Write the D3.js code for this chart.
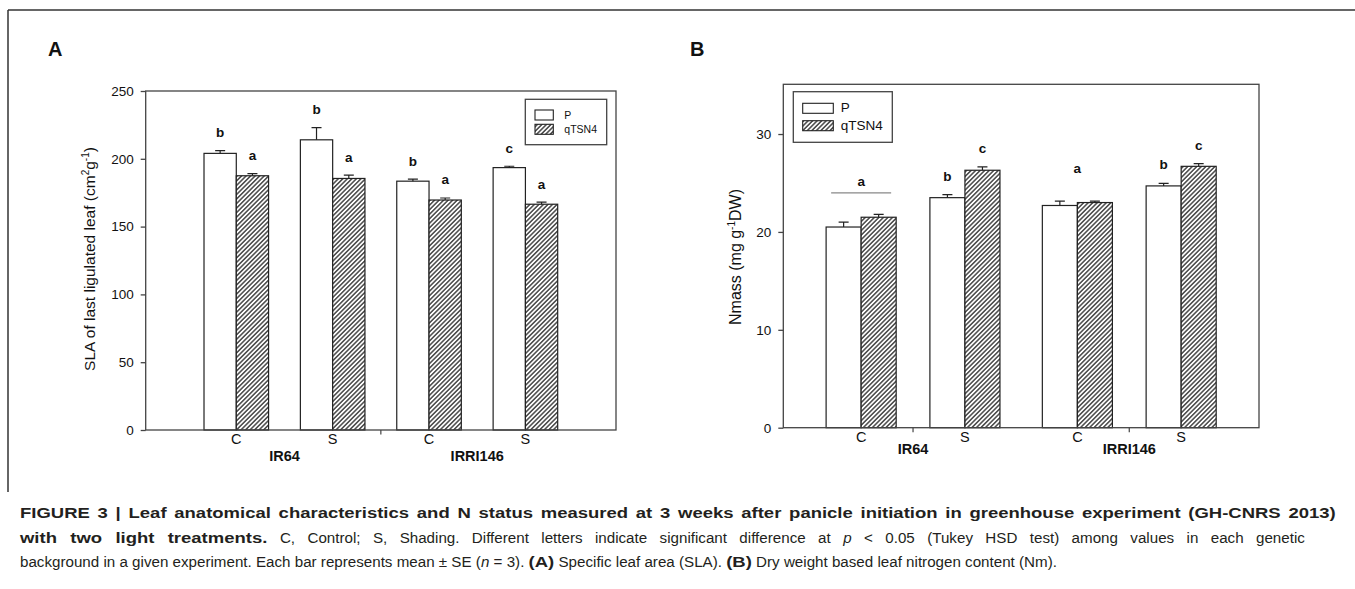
<!DOCTYPE html>
<html>
<head>
<meta charset="utf-8">
<script src="https://cdn.jsdelivr.net/npm/d3@7"></script>
<style>
body { margin: 0; background: #fff; }
svg { font-family: "Liberation Sans", Arial, sans-serif; }
</style>
</head>
<body>
<svg width="1355" height="589"></svg>
<script>
var genotypes = ['IR64', 'IRRI146'];
var treatments = ['C', 'S'];
var lines = ['P', 'qTSN4'];

// order of values: IR64-C, IR64-S, IRRI146-C, IRRI146-S
var slaP = [204, 214, 183.5, 193.5];
var slaQ = [187.5, 185.5, 169.6, 166.5];
var slaPse = [2, 9, 1.5, 1];
var slaQse = [1.5, 2.5, 1.5, 1.5];
var slaPlet = ['b', 'b', 'b', 'c'];
var slaQlet = ['a', 'a', 'a', 'a'];
var slaTicks = [0, 50, 100, 150, 200, 250];

var nmP = [20.5, 23.5, 22.7, 24.7];
var nmQ = [21.5, 26.3, 23.0, 26.7];
var nmPse = [0.5, 0.3, 0.45, 0.25];
var nmQse = [0.3, 0.35, 0.15, 0.27];
var nmPlet = ['', 'b', '', 'b'];
var nmQlet = ['', 'c', '', 'c'];
var nmGroupLet = ['a', '', 'a', ''];
var nmGroupLine = [true, false, false, false];
var nmTicks = [0, 10, 20, 30];

var caption = [
    [['FIGURE 3 | Leaf anatomical characteristics and N status measured at 3 weeks after panicle initiation in greenhouse experiment (GH-CNRS 2013)', 'b']],
    [['with two light treatments.', 'b'], [' C, Control; S, Shading. Different letters indicate significant difference at ', 'n'], ['p', 'i'], [' < 0.05 (Tukey HSD test) among values in each genetic', 'n']],
    [['background in a given experiment. Each bar represents mean \u00b1 SE (', 'n'], ['n', 'i'], [' = 3). ', 'n'], ['(A)', 'b'], [' Specific leaf area (SLA). ', 'n'], ['(B)', 'b'], [' Dry weight based leaf nitrogen content (Nm).', 'n']]
];

var svg = d3.select('svg');

var defs = svg.append('defs');
var pat = defs.append('pattern').attr('id', 'hatch').attr('patternUnits', 'userSpaceOnUse')
    .attr('width', 3.2).attr('height', 3.2).attr('patternTransform', 'rotate(45)');
pat.append('rect').attr('width', 3.2).attr('height', 3.2).attr('fill', '#fff');
pat.append('line').attr('x1', 0.8).attr('y1', 0).attr('x2', 0.8).attr('y2', 3.2)
    .attr('stroke', '#222').attr('stroke-width', 1.25);

// figure frame (top and left)
svg.append('line').attr('x1', 8).attr('y1', 10).attr('x2', 1355).attr('y2', 10).attr('stroke', '#333').attr('stroke-width', 1.5);
svg.append('line').attr('x1', 8).attr('y1', 10).attr('x2', 8).attr('y2', 492).attr('stroke', '#333').attr('stroke-width', 1.5);

function drawPanel(p) {
    var g = svg.append('g');
    var y = d3.scaleLinear().domain([0, p.ymax]).range([p.bottom, p.top]);
    var outer = d3.scaleBand().domain(genotypes).range([p.left, p.right])
        .paddingInner(p.outerInner).paddingOuter(p.outerOuter);
    var inner = d3.scaleBand().domain(treatments).range([0, outer.bandwidth()])
        .paddingInner(p.innerPad).paddingOuter(p.innerPad / 2);
    var bar = d3.scaleBand().domain(lines).range([0, inner.bandwidth()]);

    var rows = [];
    genotypes.forEach(function (gt, gi) {
        treatments.forEach(function (tr, ti) {
            var k = gi * 2 + ti;
            var gx = outer(gt) + inner(tr);
            rows.push({k: k, gx: gx, line: 'P', v: p.pv[k], se: p.pse[k], let: p.plet[k]});
            rows.push({k: k, gx: gx, line: 'qTSN4', v: p.qv[k], se: p.qse[k], let: p.qlet[k]});
        });
    });

    g.selectAll('.bar').data(rows).enter().append('rect')
        .attr('x', function (d) { return d.gx + bar(d.line); })
        .attr('y', function (d) { return y(d.v); })
        .attr('width', bar.bandwidth())
        .attr('height', function (d) { return y(0) - y(d.v); })
        .attr('fill', function (d) { return d.line === 'P' ? '#fff' : 'url(#hatch)'; })
        .attr('stroke', '#222').attr('stroke-width', 1.2);

    // upper error bars
    g.selectAll('.err').data(rows).enter().append('path')
        .attr('d', function (d) {
            var cx = d.gx + bar(d.line) + bar.bandwidth() / 2;
            return 'M' + cx + ',' + y(d.v) + 'V' + y(d.v + d.se) + 'M' + (cx - 5) + ',' + y(d.v + d.se) + 'H' + (cx + 5);
        })
        .attr('stroke', '#222').attr('stroke-width', 1.2).attr('fill', 'none');

    g.selectAll('.let').data(rows.filter(function (d) { return d.let; })).enter().append('text')
        .attr('x', function (d) { return d.gx + bar(d.line) + bar.bandwidth() / 2; })
        .attr('y', function (d) { return y(d.v + d.se) - p.letOff; })
        .attr('text-anchor', 'middle').attr('font-weight', 'bold').attr('font-size', 13.5)
        .attr('fill', '#111')
        .text(function (d) { return d.let; });

    if (p.glet) {
        genotypes.forEach(function (gt, gi) {
            treatments.forEach(function (tr, ti) {
                var k = gi * 2 + ti;
                if (!p.glet[k]) return;
                var cx = outer(gt) + inner(tr) + inner.bandwidth() / 2;
                var top = y(Math.max(p.pv[k] + p.pse[k], p.qv[k] + p.qse[k]));
                g.append('text').attr('x', cx).attr('y', top - 28)
                    .attr('text-anchor', 'middle').attr('font-weight', 'bold').attr('font-size', 13.5)
                    .attr('fill', '#111').text(p.glet[k]);
                if (p.gline[k]) {
                    g.append('line').attr('x1', cx - 30).attr('x2', cx + 30)
                        .attr('y1', top - 21.5).attr('y2', top - 21.5)
                        .attr('stroke', '#888').attr('stroke-width', 1.2);
                }
            });
        });
    }

    // frame
    g.append('rect').attr('x', p.left).attr('y', p.top)
        .attr('width', p.right - p.left).attr('height', p.bottom - p.top)
        .attr('fill', 'none').attr('stroke', '#444').attr('stroke-width', 1.3);

    var ya = g.append('g').attr('transform', 'translate(' + p.left + ',0)')
        .call(d3.axisLeft(y).tickValues(p.ticks).tickSize(5).tickPadding(7).tickFormat(d3.format('d')));
    ya.select('.domain').remove();
    ya.selectAll('line').attr('stroke', '#444').attr('stroke-width', 1.3);
    ya.selectAll('text').attr('font-size', 13.5).attr('fill', '#111')
        .style('font-family', '"Liberation Sans", Arial, sans-serif');

    // treatment and genotype labels
    genotypes.forEach(function (gt) {
        treatments.forEach(function (tr) {
            g.append('text').attr('x', outer(gt) + inner(tr) + inner.bandwidth() / 2)
                .attr('y', p.bottom + p.trY).attr('text-anchor', 'middle')
                .attr('font-size', 14.5).attr('fill', '#111').text(tr);
        });
        g.append('text').attr('x', outer(gt) + outer.bandwidth() / 2)
            .attr('y', p.bottom + p.gtY).attr('text-anchor', 'middle')
            .attr('font-size', 14.5).attr('font-weight', 'bold').attr('fill', '#111').text(gt);
    });

    // group ticks on x axis
    var tx = p.tickAtEdge ? [outer(genotypes[1]) - outer.step() * outer.paddingInner() / 2]
        : genotypes.map(function (gt) { return outer(gt) + outer.bandwidth() / 2; });
    tx.forEach(function (x) {
        g.append('line').attr('x1', x).attr('x2', x).attr('y1', p.bottom).attr('y2', p.bottom + 4.5)
            .attr('stroke', '#444').attr('stroke-width', 1.2);
    });

    // y title
    var t = g.append('text').attr('transform', 'translate(' + p.titleX + ',' + p.titleY + ') rotate(-90)')
        .attr('text-anchor', 'middle').attr('font-size', p.titleFs).attr('fill', '#111');
    p.title.forEach(function (part) {
        var s = t.append('tspan').text(part[0]);
        if (part[1] === 'sup') s.attr('font-size', 10).attr('dy', -6);
        if (part[1] === 'down') s.attr('dy', 6);
    });

    // legend
    var L = p.legend;
    g.append('rect').attr('x', L.x).attr('y', L.y).attr('width', L.w).attr('height', L.h)
        .attr('fill', '#fff').attr('stroke', '#444').attr('stroke-width', 1.3);
    lines.forEach(function (ln, i) {
        var sy = L.y + L.sy + i * L.gap;
        g.append('rect').attr('x', L.x + L.sx).attr('y', sy).attr('width', L.sw).attr('height', 10)
            .attr('fill', i === 0 ? '#fff' : 'url(#hatch)').attr('stroke', '#222').attr('stroke-width', 1.1);
        g.append('text').attr('x', L.x + L.tx).attr('y', sy + 9).attr('font-size', L.fs)
            .attr('fill', '#111').text(ln);
    });

    svg.append('text').attr('x', p.labX).attr('y', 56).attr('font-size', 20)
        .attr('font-weight', 'bold').attr('fill', '#111').text(p.label);
}

drawPanel({
    label: 'A', labX: 48,
    left: 145.7, right: 616, top: 91, bottom: 430, ymax: 250, ticks: slaTicks,
    outerInner: 0, outerOuter: 0.22, innerPad: 0.33, tickAtEdge: true,
    pv: slaP, qv: slaQ, pse: slaPse, qse: slaQse, plet: slaPlet, qlet: slaQlet,
    letOff: 13.5, trY: 14, gtY: 31,
    titleX: 95, titleY: 259, titleFs: 15.5,
    title: [['SLA of last ligulated leaf (cm', ''], ['2', 'sup'], ['g', 'down'], ['-1', 'sup'], [')', 'down']],
    legend: {x: 525.3, y: 99.3, w: 81.4, h: 45.4, sx: 9.7, sy: 10.7, gap: 14.3, sw: 18.3, tx: 39, fs: 10.5}
});

drawPanel({
    label: 'B', labX: 690,
    left: 783.3, right: 1259, top: 84.3, bottom: 427.7, ymax: 35.08, ticks: nmTicks,
    outerInner: 0.04, outerOuter: 0.12, innerPad: 0.325, tickAtEdge: false,
    pv: nmP, qv: nmQ, pse: nmPse, qse: nmQse, plet: nmPlet, qlet: nmQlet,
    glet: nmGroupLet, gline: nmGroupLine,
    letOff: 14, trY: 14.5, gtY: 26.5,
    titleX: 741, titleY: 257, titleFs: 16,
    title: [['Nmass (mg g', ''], ['-1', 'sup'], ['DW)', 'down']],
    legend: {x: 793.3, y: 91.7, w: 99, h: 50.6, sx: 9.4, sy: 11.6, gap: 17.4, sw: 30.6, tx: 47.4, fs: 13.5}
});

// caption: each run of text is its own element, squeezed horizontally
// (bold runs by kb, others by kr); lines 1 and 2 are justified by widening word spaces
var capY = [518, 543, 567];
var capW = [1317, 1285, 1037];
var boldRunW = 223; // width of "with two light treatments." in the figure
var capG = svg.append('g');
var runs = caption.map(function (parts, i) {
    return parts.map(function (part) {
        var wrap = capG.append('g');
        var t = wrap.append('text').attr('x', 0).attr('y', 0).attr('font-size', 15.5)
            .attr('fill', '#231f20').style('white-space', 'pre').text(part[0]);
        if (part[1] === 'b') t.attr('font-weight', 'bold');
        if (part[1] === 'i') t.attr('font-style', 'italic');
        return {wrap: wrap, t: t, bold: part[1] === 'b', txt: part[0], w: t.node().getComputedTextLength()};
    });
});
function sumW(list, bold) {
    return d3.sum(list.filter(function (r) { return r.bold === bold; }), function (r) { return r.w; });
}
var kb = boldRunW / runs[1][0].w;
var kr = (capW[2] - kb * sumW(runs[2], true)) / sumW(runs[2], false);
runs.forEach(function (list, i) {
    var ws = 0;
    if (i < 2) {
        var nat = kb * sumW(list, true) + kr * sumW(list, false);
        var spaces = d3.sum(list, function (r) { return r.txt.split(' ').length - 1; });
        ws = (capW[i] - nat) / spaces;
    }
    var cursor = 20;
    list.forEach(function (r) {
        var k = r.bold ? kb : kr;
        if (ws) r.t.style('word-spacing', (ws / k) + 'px');
        var w = r.t.node().getComputedTextLength();
        r.wrap.attr('transform', 'translate(' + cursor + ',' + capY[i] + ') scale(' + k + ',1)');
        cursor += w * k;
    });
});
</script>
</body>
</html>
